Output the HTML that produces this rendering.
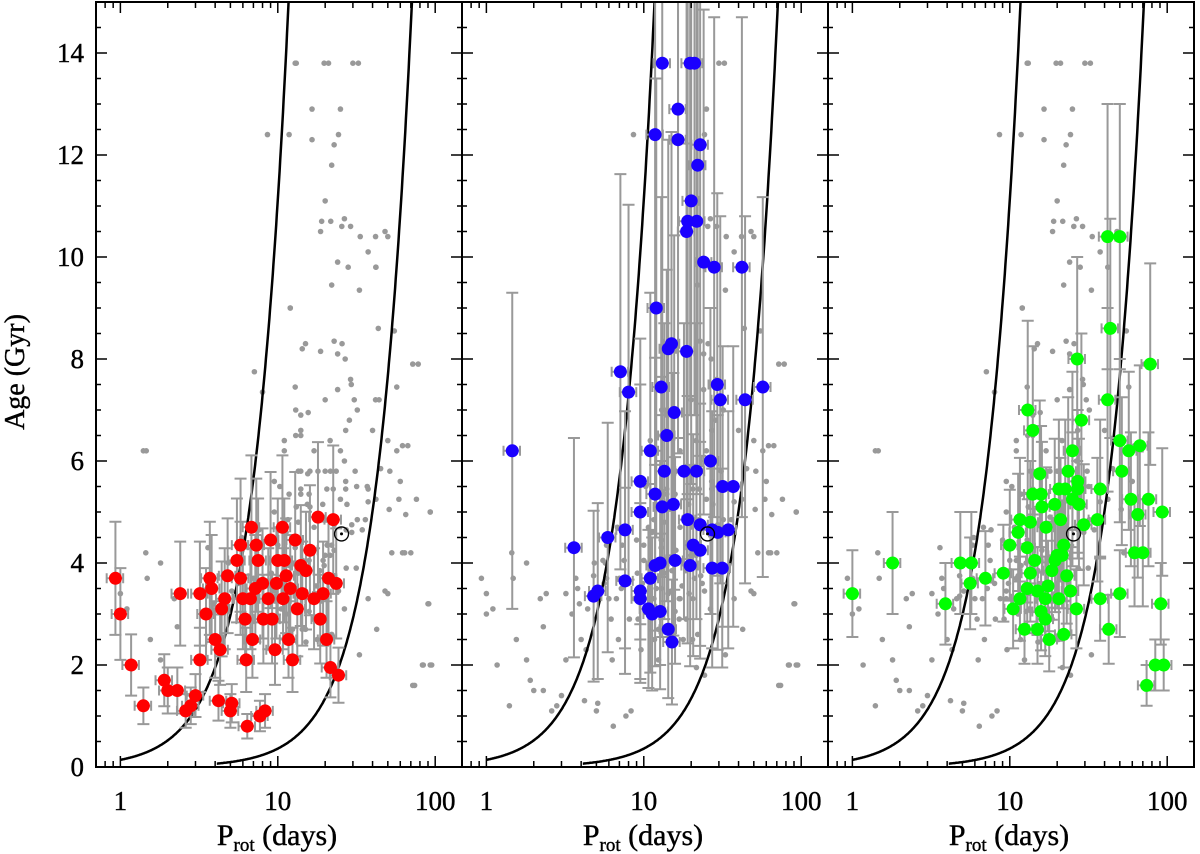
<!DOCTYPE html>
<html><head><meta charset="utf-8"><style>
body{margin:0;background:#fff}
svg{display:block}
text{font-family:"Liberation Serif",serif;fill:#000}
</style></head><body>
<svg id="chart" width="1200" height="854" viewBox="0 0 1200 854" xmlns="http://www.w3.org/2000/svg"></svg>
<script>
// ---- data: [Prot days, Age Gyr] ----
const grayP = [8.6,12.9,24.3,25,30,32.5,26.5,29,25.5,33.4,48,42,37.5,22,12,22.8,24,25.6,33,55,72,29,24,20,32,40,62,45,31,20,93,60,51,42,53,64,37.5,32,1.4,1.45,1.48,1.1,1.55,1.8,2.3,2.2,48,90,83,93,72,33,14,11,10.3,16,13,14,17,21.5,27,14];
const grayAge = [12.4,13.8,12.4,12.9,13.8,13.8,10.75,10.6,10.6,10.4,10.5,9.8,10.1,9.45,9.0,8.35,8.1,8.3,9.35,8.55,7.9,7.6,7.4,7.2,7.0,6.6,6.3,5.85,5.8,5.8,5.0,5.6,5.05,5.25,4.2,4.2,5.2,4.85,6.2,4.2,3.7,3.1,2.5,2.1,2.75,3.3,3.45,3.2,2.0,2.0,1.6,2.2,5.8,6.4,5.5,5.8,6.5,5.45,6.2,6.4,6.6,6.9];
const redP = [0.93,1.0,1.17,1.4,2.4,1.9,2.0,2.3,2.6,2.8,3.0,3.2,3.2,3.5,3.7,4.0,4.2,4.4,4.6,5.0,5.1,5.5,5.8,6.2,6.4,6.7,6.8,7.7,8.3,7.5,8.1,9.0,9.2,9.6,10,10.7,10.8,11.3,11.7,12,12.4,12.9,13.3,14,14.3,15.1,16,17,18,18.6,19.4,20.4,21,21.6,22.5,23.5,24.3,5.8,7.2,8,8.7,3.8,4.8,6,6.9,7.3,9.8,11,6.3,4.3];
const redAge = [3.7,3.0,2.0,1.2,3.4,1.7,1.5,1.5,1.1,1.2,1.4,2.1,3.4,3.0,3.7,2.5,1.3,3.1,3.3,1.1,1.25,4.05,3.7,2.9,0.8,3.3,4.7,1.0,1.1,4.05,2.9,4.45,2.9,2.3,4.05,4.7,3.3,3.75,2.5,3.5,2.1,4.45,3.1,3.95,3.4,3.85,4.25,3.3,4.9,2.9,3.4,2.5,3.7,1.95,4.85,3.6,1.8,4.35,3.5,3.6,3.3,3.5,3.75,3.3,2.5,4.35,3.6,4.05,2.1,2.3];
const blueP = [1.46,3.6,11.8,13.1,12,16.5,16.5,19.7,21,22.8,22,20,19,18.7,21.7,24,28,15,14.3,18.7,29.3,30.6,12.9,7.1,8,15.6,14,11,9.5,13.5,18,21.6,26.5,31.7,37,9.5,11.8,13.1,15.4,19,22.8,27.2,29.5,34.4,7.6,5.9,4.8,5.1,9.5,11,11.8,12.7,15.8,19.7,22.8,27.2,31.5,10.7,11.3,12.7,14.3,15.1,9.5,7.6,20.6,44,57,42];
const blueAge = [6.2,4.3,12.4,13.8,9.0,12.9,12.3,13.8,13.8,12.2,11.8,11.1,10.7,10.5,10.7,9.9,9.8,8.3,8.2,8.15,7.5,7.2,7.45,7.75,7.35,6.95,6.5,6.2,5.6,5.8,5.8,5.8,6.0,5.5,5.5,5.0,5.35,5.1,5.15,4.85,4.75,4.65,4.6,4.65,4.65,4.5,3.35,3.45,3.45,3.7,3.95,4.0,4.05,3.95,4.25,3.9,3.9,3.1,3.0,3.05,2.7,2.45,3.3,3.65,4.35,7.2,7.45,9.8];
const greenP = [1.0,1.8,3.9,4.85,5.6,5.7,7.0,9.1,10,11.3,11.6,13.5,12.9,14.4,15,16.8,17.5,18.5,20,19.3,15.8,15.5,17,20.5,21,22,23,24.3,26.5,20.5,16.8,15.8,17.8,22,25,27,29.5,25,23.5,27,22.5,27.5,16,14,12.9,13.5,11.6,10.5,12.4,15,19.4,21.5,13,26.8,28.5,50,41.8,43.5,41.8,50,57,51.5,58.8,65,62,70,67,78,76,93,91,84,95,74,37.5,36,37.5,42.5,50,14];
const greenAge = [3.4,4.0,3.2,4.0,3.6,4.0,3.7,3.8,4.35,4.6,4.85,4.8,4.3,4.05,3.45,3.3,3.55,3.85,4.15,5.15,5.35,5.75,4.7,5.45,4.85,4.35,3.75,3.45,3.1,3.3,2.9,3.05,2.5,2.6,5.25,5.45,4.75,6.2,5.8,5.6,5.45,5.15,5.1,5.35,3.5,3.8,3.3,3.1,2.7,2.7,4.05,4.15,7.0,8.0,6.8,10.4,10.4,8.6,7.2,6.4,6.2,5.8,5.25,4.95,4.2,4.2,6.3,7.9,5.25,5.0,3.2,2.0,2.0,1.6,5.45,4.85,3.3,2.7,3.4,6.6];
const yTicks = [0,2,4,6,8,10,12,14];
const xTickLabels = [1,10,100];
const curveCoef = [0.14,0.00454];
const curveStart = [1.0,4.1];
const sunP = 25.4, sunAge = 4.57;
const ageErrFrac = [0.3,0.5,0.25];
const pErrFrac = 0.12;

const NS="http://www.w3.org/2000/svg";
const svg=document.getElementById('chart');
function mk(tag,attrs,parent){const e=document.createElementNS(NS,tag);for(const k in attrs)e.setAttribute(k,attrs[k]);(parent||svg).appendChild(e);return e;}
const panelW=366, plotTop=2, plotBottom=767, x0s=[96,462,828];
const xmin=Math.log10(0.70), xmax=Math.log10(148), ymax=15;
function xs(p,i){return x0s[i]+(Math.log10(p)-xmin)/(xmax-xmin)*panelW;}
function ys(a){return plotBottom-(a/ymax)*(plotBottom-plotTop);}

const colored=[[redP,redAge,'#ff0000','red'],[blueP,blueAge,'#1a00ff','blue'],[greenP,greenAge,'#00ff00','green']];
for(let i=0;i<3;i++){
  const g=mk('g',{});
  
  
  const clipId='clip'+i;
  const cp=mk('clipPath',{id:clipId},g);
  mk('rect',{x:x0s[i],y:plotTop,width:panelW,height:plotBottom-plotTop},cp);
  const plot=mk('g',{'clip-path':'url(#'+clipId+')'},g);
  const gp=[...grayP],ga=[...grayAge];
  for(let j=0;j<3;j++) if(j!==i){gp.push(...colored[j][0]);ga.push(...colored[j][1]);}
  for(let k=0;k<gp.length;k++){
    const c=mk('circle',{cx:xs(gp[k],i),cy:ys(ga[k]),r:2.8,fill:'#999'},plot);
    
    
  }
  for(let c=0;c<2;c++){
    let d='';
    for(let p=curveStart[c];p<1000;p*=1.01){
      const a=curveCoef[c]*Math.pow(p,1.9);
      d+=(d?'L':'M')+xs(p,i).toFixed(1)+','+ys(a).toFixed(1);
      if(a>15.5)break;
    }
    const pa=mk('path',{d:d,fill:'none',stroke:'#000','stroke-width':2.5},plot);
    
    
  }
  const [P,A,col,nm]=colored[i];
  for(let k=0;k<P.length;k++){
    const x=xs(P[k],i),y=ys(A[k]);
    const e=A[k]*ageErrFrac[i];
    const y1=ys(A[k]-e),y2=ys(A[k]+e);
    const xl=xs(P[k]*(1-pErrFrac),i),xr=xs(P[k]*(1+pErrFrac),i);
    const eb=mk('path',{d:`M${x},${y1}V${y2}M${x-6},${y1}H${x+6}M${x-6},${y2}H${x+6}M${xl},${y}H${xr}M${xl},${y-5}V${y+5}M${xr},${y-5}V${y+5}`,stroke:'#999','stroke-width':2,fill:'none'},plot);
    
    
  }
  for(let k=0;k<P.length;k++){
    const c=mk('circle',{cx:xs(P[k],i),cy:ys(A[k]),r:6.5,fill:col},plot);
    
    
  }
  const sx=xs(sunP,i),sy=ys(sunAge);
  const s=mk('g',{},plot);
  
  
  mk('circle',{cx:sx,cy:sy,r:7,fill:'none',stroke:'#000','stroke-width':1.3},s);
  mk('circle',{cx:sx,cy:sy,r:1.5,fill:'#000'},s);
  const fr=mk('rect',{x:x0s[i],y:plotTop,width:panelW,height:plotBottom-plotTop,fill:'none',stroke:'#000','stroke-width':2},g);
  
  
  for(let a=0;a<=15;a+=0.5){
    const L=(a%2===0)?11:5, y=ys(a);
    mk('line',{x1:x0s[i],x2:x0s[i]+L,y1:y,y2:y,stroke:'#000','stroke-width':1.5},g);
    mk('line',{x1:x0s[i]+panelW,x2:x0s[i]+panelW-L,y1:y,y2:y,stroke:'#000','stroke-width':1.5},g);
  }
  for(let e=-1;e<=2;e++){
    for(let m=1;m<10;m++){
      const p=m*Math.pow(10,e); if(p<0.7||p>148)continue;
      const x=xs(p,i),L=(m===1)?11:6;
      mk('line',{x1:x,x2:x,y1:plotBottom,y2:plotBottom-L,stroke:'#000','stroke-width':1.5},g);
      mk('line',{x1:x,x2:x,y1:plotTop,y2:plotTop+L,stroke:'#000','stroke-width':1.5},g);
    }
  }
  xTickLabels.forEach(v=>{
    const t=mk('text',{x:xs(v,i),y:810,'font-size':27,'text-anchor':'middle',stroke:'#000','stroke-width':0.4},g);
    t.textContent=v;
    
    
  });
  const xt=mk('text',{x:x0s[i]+181,y:845,'font-size':30,'text-anchor':'middle',stroke:'#000','stroke-width':0.4},g);
  
  
  const t1=mk('tspan',{},xt); t1.textContent='P';
  const t2=mk('tspan',{'font-size':19,dy:6},xt); t2.textContent='rot';
  const t3=mk('tspan',{dy:-6},xt); t3.textContent=' (days)';
}
yTicks.forEach(v=>{
  const t=mk('text',{x:84,y:ys(v)+9,'font-size':27,'text-anchor':'end',stroke:'#000','stroke-width':0.4});
  t.textContent=v;
  
  
});
const yt=mk('text',{x:0,y:0,'font-size':28,'text-anchor':'middle',stroke:'#000','stroke-width':0.4,transform:'translate(24,372) rotate(-90)'});
yt.textContent='Age (Gyr)';


</script>
</body></html>
